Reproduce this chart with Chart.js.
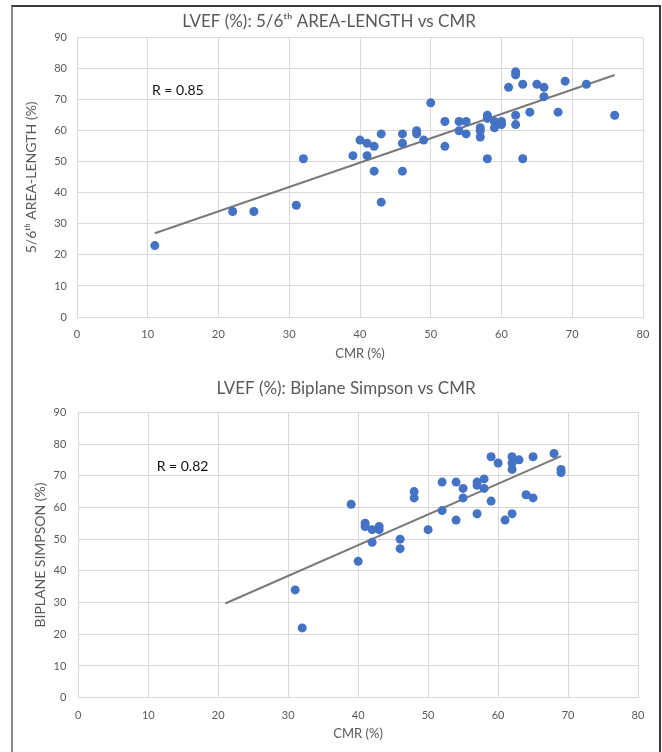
<!DOCTYPE html>
<html>
<head>
<meta charset="utf-8">
<script src="https://cdn.jsdelivr.net/npm/chart.js@4.4.1/dist/chart.umd.min.js"></script>
<style>
  html, body { margin: 0; padding: 0; background: #fff; overflow: hidden; }
  #frame { position: absolute; left: 11px; top: 5px; width: 646px; height: 800px;
           border: 2px solid #3a3a3a; border-left-color: #8a8a8a; }
  canvas { position: absolute; }
</style>
</head>
<body>
<div id="frame"></div>
<canvas id="areaChart" width="647" height="354" style="left:14px;top:8px"></canvas>
<canvas id="simpsonChart" width="642" height="370" style="left:14px;top:372px"></canvas>
<script>
// 5/6th area-length vs CMR
const cmrA = [11, 22, 25, 31, 32, 39, 40, 41, 41, 42, 42, 43, 43, 46, 46, 46, 48, 48, 49, 50,
              52, 52, 54, 54, 55, 55, 57, 57, 57, 58, 58, 58, 59, 59, 60, 60, 61, 62, 62, 62,
              62, 63, 63, 64, 65, 66, 66, 68, 69, 72, 76];
const areaLen = [23, 34, 34, 36, 51, 52, 57, 56, 52, 55, 47, 59, 37, 59, 56, 47, 60, 59, 57, 69,
                 63, 55, 63, 60, 63, 59, 61, 60, 58, 65, 64, 51, 63, 61, 63, 62, 74, 79, 78, 65,
                 62, 75, 51, 66, 75, 74, 71, 66, 76, 75, 65];
const trendAx = [11, 76];
const trendAy = [27, 78];

// biplane Simpson vs CMR
const cmrB = [31, 32, 39, 40, 41, 41, 42, 42, 43, 43, 46, 46, 48, 48, 50, 52, 52, 54, 54, 55,
              55, 57, 57, 57, 58, 58, 59, 59, 60, 61, 62, 62, 62, 62, 63, 64, 65, 65, 68, 69, 69];
const simpson = [34, 22, 61, 43, 55, 54, 53, 49, 54, 53, 50, 47, 65, 63, 53, 68, 59, 68, 56, 66,
                 63, 68, 67, 58, 69, 66, 76, 62, 74, 56, 76, 74, 72, 58, 75, 64, 76, 63, 77, 72, 71];
const trendBx = [21, 69];
const trendBy = [29.7, 76.2];

const xTicks = [0, 10, 20, 30, 40, 50, 60, 70, 80];
const yTicks = [0, 10, 20, 30, 40, 50, 60, 70, 80, 90];

const FONT = 'Lato, "Open Sans", sans-serif';
const GREY = '#595959';

function pts(xs, ys) {
  return xs.map((v, i) => ({ x: v, y: ys[i] }));
}

// writes the "R = ..." note inside the plot
const rNote = {
  id: 'rNote',
  afterDatasetsDraw(chart, args, opts) {
    const { ctx, scales: { x, y } } = chart;
    ctx.save();
    ctx.font = '14px ' + FONT;
    ctx.fillStyle = '#111';
    ctx.textBaseline = 'middle';
    ctx.fillText(opts.text, x.getPixelForValue(opts.at[0]), y.getPixelForValue(opts.at[1]));
    ctx.restore();
  }
};

function makeChart(id, s) {
  return new Chart(document.getElementById(id), {
    type: 'scatter',
    data: {
      datasets: [{
        data: pts(s.xs, s.ys),
        backgroundColor: '#4472C4',
        borderWidth: 0,
        pointRadius: 4.5,
        pointHoverRadius: 4.5
      }, {
        data: pts(s.tx, s.ty),
        showLine: true,
        borderColor: '#7a7a7a',
        borderWidth: 2,
        pointRadius: 0
      }]
    },
    options: {
      responsive: false,
      animation: false,
      layout: { padding: { left: s.padLeft, right: 18, top: 0, bottom: 0 } },
      plugins: {
        legend: { display: false },
        tooltip: { enabled: false },
        title: {
          display: true,
          text: s.title,
          color: GREY,
          font: { family: FONT, size: 17, weight: 'normal' },
          padding: s.titlePad
        },
        rNote: { text: s.rText, at: s.rAt }
      },
      scales: {
        x: {
          type: 'linear', min: 0, max: 80,
          afterBuildTicks: sc => { sc.ticks = xTicks.map(v => ({ value: v })); },
          afterFit: sc => { sc.height = s.xHeight; },
          grid: { color: '#d9d9d9', drawTicks: false },
          border: { color: '#d9d9d9' },
          ticks: { color: GREY, padding: 11, font: { family: FONT, size: 11 } },
          title: { display: true, text: 'CMR (%)', color: GREY,
                   font: { family: FONT, size: 13 }, padding: { top: 0, bottom: 0 } }
        },
        y: {
          type: 'linear', min: 0, max: 90,
          afterBuildTicks: sc => { sc.ticks = yTicks.map(v => ({ value: v })); },
          afterFit: sc => { sc.width = s.yWidth; },
          grid: { color: '#d9d9d9', drawTicks: false },
          border: { color: '#d9d9d9' },
          ticks: { color: GREY, padding: s.yTickPad, font: { family: FONT, size: 11 } },
          title: { display: true, text: s.yTitle, color: GREY,
                   font: { family: FONT, size: 14 }, padding: { top: s.yTitlePad, bottom: 0 } }
        }
      }
    },
    plugins: [rNote]
  });
}

makeChart('areaChart', {
  xs: cmrA, ys: areaLen, tx: trendAx, ty: trendAy,
  title: 'LVEF (%): 5/6ᵗʰ AREA-LENGTH vs CMR',
  yTitle: '5/6ᵗʰ AREA-LENGTH (%)',
  rText: 'R = 0.85', rAt: [10.6, 73],
  padLeft: 1, yWidth: 62, yTickPad: 10, yTitlePad: 7.6,
  xHeight: 45, titlePad: { top: 3.8, bottom: 5.5 }
});

makeChart('simpsonChart', {
  xs: cmrB, ys: simpson, tx: trendBx, ty: trendBy,
  title: 'LVEF (%): Biplane Simpson vs CMR',
  yTitle: 'BIPLANE SIMPSON (%)',
  rText: 'R = 0.82', rAt: [11.2, 73],
  padLeft: 40, yWidth: 24.3, yTickPad: 12, yTitlePad: -22.4,
  xHeight: 44.3, titlePad: { top: 6.8, bottom: 13.1 }
});
</script>
</body>
</html>
